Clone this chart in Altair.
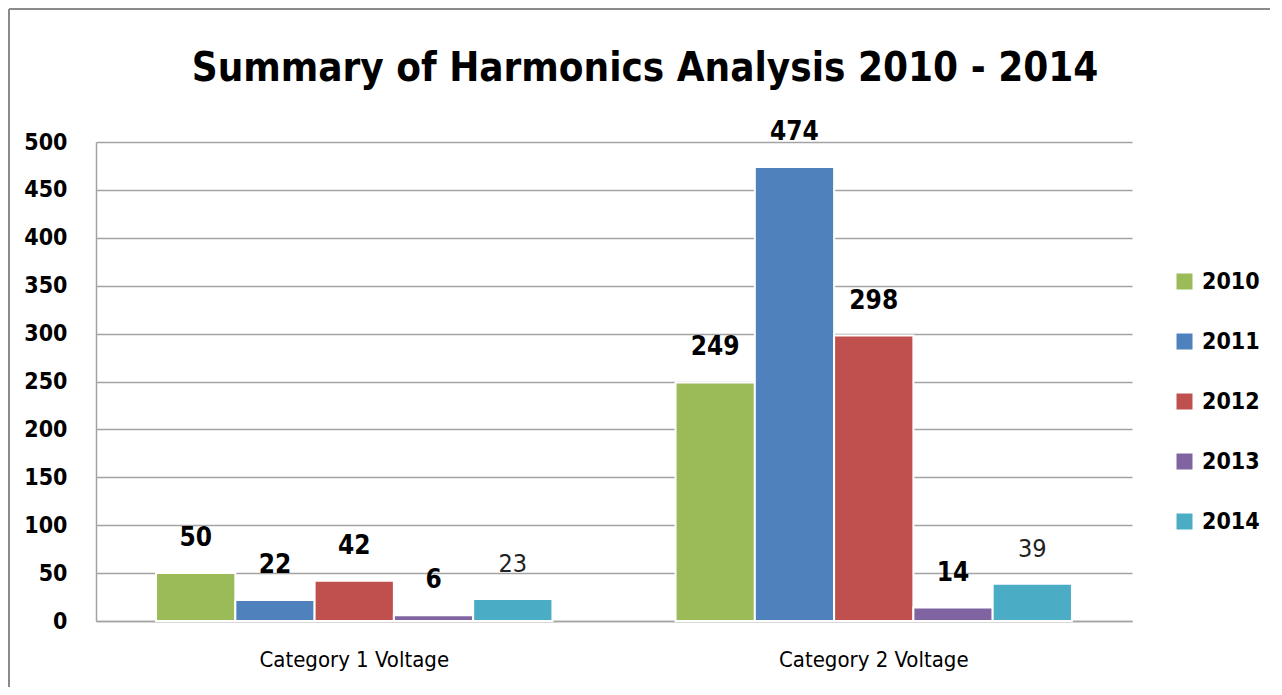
import altair as alt
import pandas as pd

categories = ["Category 1 Voltage", "Category 2 Voltage"]
years = ["2010", "2011", "2012", "2013", "2014"]
values_cat1 = [50, 22, 42, 6, 23]
values_cat2 = [249, 474, 298, 14, 39]
colors = ["#9BBB59", "#4F81BD", "#C0504D", "#8064A2", "#4BACC6"]

rows = []
for cat, vals in zip(categories, [values_cat1, values_cat2]):
    for y, v in zip(years, vals):
        rows.append({"category": cat, "year": y, "value": v})
df = pd.DataFrame(rows)

FONT = "Liberation Sans Narrow, DejaVu Sans Condensed, Roboto, sans-serif"
GRID = "#a3a3a3"

x = alt.X("category:N", sort=categories, title=None,
          scale=alt.Scale(paddingInner=0.237, paddingOuter=0.1156),
          axis=alt.Axis(labelAngle=0, labelFontSize=22, labelFont=FONT,
                        labelColor="#000000", ticks=False, tickSize=0, labelLimit=0,
                        labelPadding=28, domainColor=GRID, domainWidth=1.5, grid=False))
xo = alt.XOffset("year:N", sort=years, scale=alt.Scale(paddingInner=0, paddingOuter=0))
y = alt.Y("value:Q", title=None,
          scale=alt.Scale(domain=[0, 500], nice=False),
          axis=alt.Axis(values=list(range(0, 501, 50)), labelFontSize=23,
                        labelFontWeight="bold", labelFont=FONT, labelColor="#000000",
                        ticks=False, tickSize=0, labelPadding=29,
                        domainColor=GRID, domainWidth=1.5,
                        gridColor=GRID, gridWidth=1.5))

base = alt.Chart(df).encode(x=x, xOffset=xo)

bars = base.mark_bar(stroke="white", strokeWidth=2).encode(
    y=y,
    color=alt.Color("year:N", sort=years, title=None,
                    scale=alt.Scale(domain=years, range=colors),
                    legend=alt.Legend(orient="none", legendX=1077, legendY=128,
                                      symbolType="square", symbolSize=256,
                                      symbolStrokeWidth=0,
                                      labelFontSize=23, labelFontWeight="bold",
                                      labelFont=FONT, labelColor="#000000",
                                      labelOffset=6, rowPadding=36)),
)

labels_bold = base.mark_text(baseline="middle", dy=-35, fontSize=26,
                             fontWeight="bold", font=FONT, color="#000000").encode(
    y="value:Q", text="value:Q"
).transform_filter(alt.datum.year != "2014")

labels_reg = base.mark_text(baseline="middle", dy=-35, fontSize=25,
                            fontWeight="normal", font=FONT, color="#222222").encode(
    y="value:Q", text="value:Q"
).transform_filter(alt.datum.year == "2014")

frame_df = pd.DataFrame({"k": [0]})
frame_left = alt.Chart(frame_df).mark_rule(color="#8a8a8a", strokeWidth=2).encode(
    x=alt.value(-87), y=alt.value(-133), y2=alt.value(545))
frame_top = alt.Chart(frame_df).mark_rule(color="#8a8a8a", strokeWidth=2).encode(
    x=alt.value(-87), x2=alt.value(1174), y=alt.value(-133))

chart = alt.layer(frame_left, frame_top, bars, labels_bold, labels_reg).properties(
    width=1036, height=479,
    padding={"left": 0, "top": 0, "right": 0, "bottom": 0},
    title=alt.Title("Summary of Harmonics Analysis 2010 - 2014", fontSize=40,
                    fontWeight="bold", font=FONT, color="#000000",
                    anchor="middle", frame="group", dx=31, baseline="alphabetic",
                    offset=-113),
).configure_view(
    stroke="transparent", strokeWidth=0, strokeOpacity=0
).configure(
    background="white", style={"cell": {"stroke": "transparent", "strokeWidth": 0}}
)

chart.save("out.html", embed_options={"renderer": "svg", "actions": False})
